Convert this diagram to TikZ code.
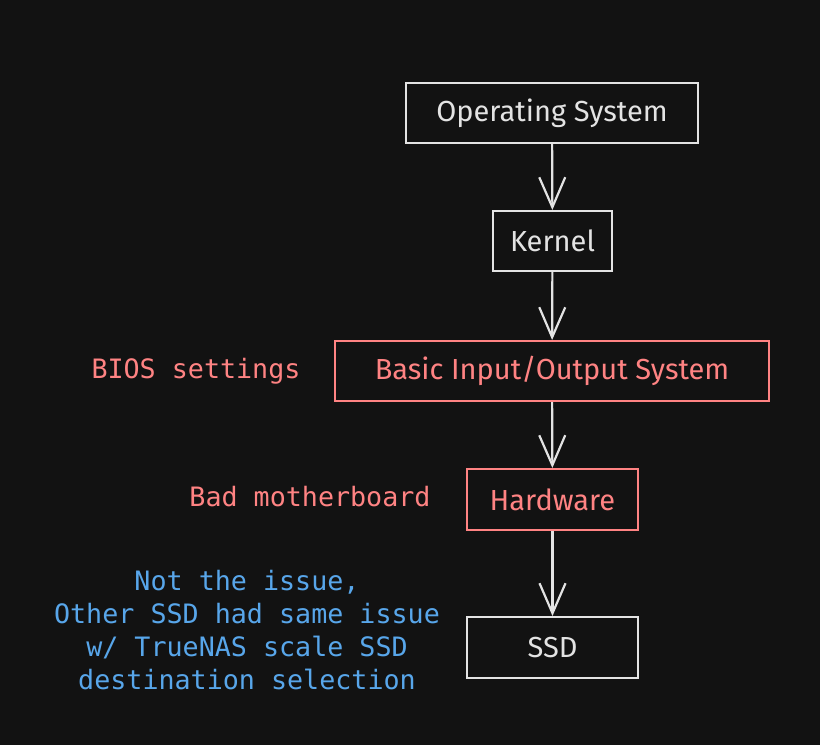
\documentclass[tikz,border=0pt]{standalone}
\usepackage{fontspec}
\setmainfont{Fira Sans}
\newfontfamily\notefont{DejaVu Sans Mono}
\usetikzlibrary{arrows.meta, positioning}

\definecolor{bgdark}{HTML}{121212}
\definecolor{strokelight}{HTML}{E3E3E3}
\definecolor{redpen}{HTML}{FF8383}
\definecolor{bluepen}{HTML}{58A6EA}

\tikzset{
  box/.style={rectangle, draw=strokelight, line width=2pt, text=strokelight, font=\fontsize{29}{34}\selectfont, inner sep=0pt},
  redbox/.style={box, draw=redpen, text=redpen},
  note/.style={font=\notefont\fontsize{26.7}{33}\selectfont, align=center, inner sep=0pt},
  flow/.style={-{Straight Barb[length=30pt, width=26pt, line width=2.2pt]}, line width=2.2pt, draw=strokelight}
}

\begin{document}
\begin{tikzpicture}[x=1pt, y=-1pt]
      \fill[bgdark] (0,0) rectangle (820,745);
      \useasboundingbox (0,0) rectangle (820,745);

      % Stack
      \node[box, minimum width=292pt, minimum height=60pt] (os) at (552,113) {Operating System};
      \node[box, minimum width=119pt, minimum height=60pt] (kernel) at (552.5,241) {Kernel};
      \node[redbox, minimum width=434pt, minimum height=60pt] (bios) at (552,371) {Basic Input/Output System};
      \node[redbox, minimum width=171pt, minimum height=61pt] (hw) at (552.5,499.5) {Hardware};
      \node[box, minimum width=171pt, minimum height=61pt] (ssd) at (552.5,647.5) {SSD};

      % Notes
      \node[note, text=redpen] (biosnote) at (196,371) {BIOS settings};
      \node[note, text=redpen] (hwnote) at (310,497) {Bad motherboard};
      \node[note, text=bluepen] (ssdnote) at (247,630) {Not the issue,\\Other SSD had same issue\\w/ TrueNAS scale SSD\\destination selection};

      % Arrows
      \draw[flow] (os) -- (kernel);
      \draw[flow] (kernel) -- (bios);
      \draw[flow] (bios) -- (hw);
      \draw[flow] (hw) -- (ssd);
    \end{tikzpicture}
\end{document}
